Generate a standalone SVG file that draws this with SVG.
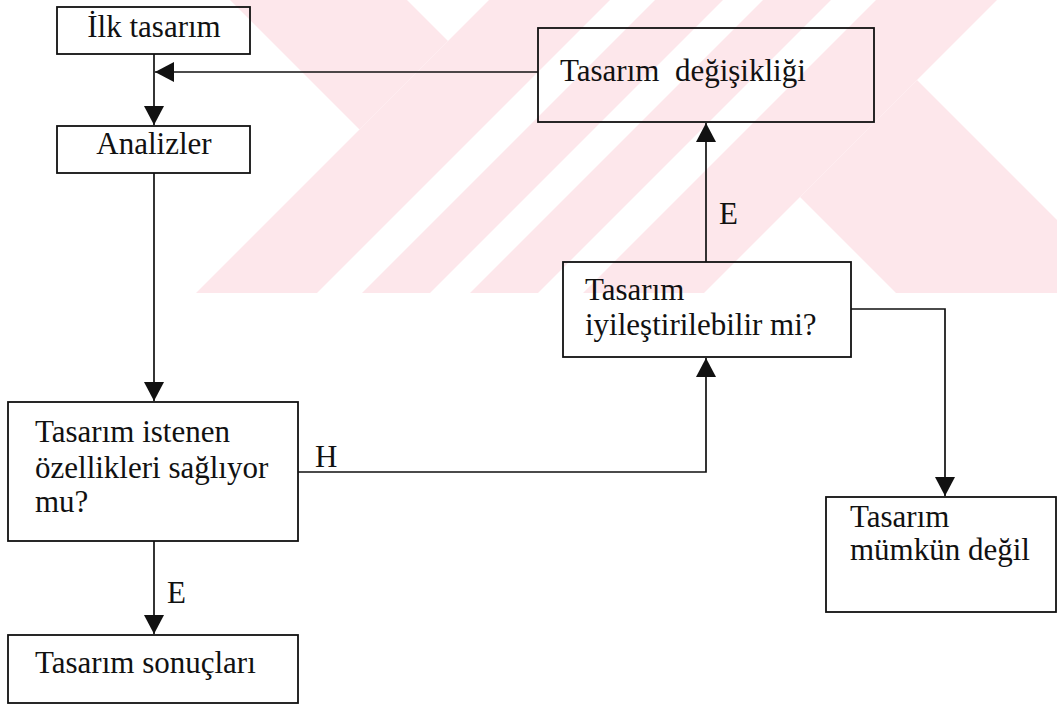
<svg xmlns="http://www.w3.org/2000/svg" width="1057" height="705" viewBox="0 0 1057 705">
  <style>
    .box { fill: none; stroke: #111; stroke-width: 1.8; }
    .wire { fill: none; stroke: #111; stroke-width: 1.7; }
    .t { font-family: 'Liberation Serif', Tinos, 'Times New Roman', 'DejaVu Serif', serif; font-size: 31px; fill: #111; }
    .wm { fill: #fde7eb; stroke: none; }
  </style>
  <defs>
    <marker id="arrow" viewBox="0 0 20 20" refX="19" refY="10" markerWidth="20" markerHeight="20" markerUnits="userSpaceOnUse" orient="auto">
      <path d="M0,0 L19,10 L0,20 z" fill="#111"/>
    </marker>
  </defs>
  <rect width="1057" height="705" fill="#ffffff"/>

  <g id="watermark">
    <polygon class="wm" points="230,0 407,0 448,41 359.5,129.5"/>
    <polygon class="wm" points="489,0 610,0 317,293 196,293"/>
    <polygon class="wm" points="655,0 723,0 430,293 362,293"/>
    <polygon class="wm" points="763,0 831,0 538,293 470,293"/>
    <polygon class="wm" points="876,0 997,0 704,293 583,293"/>
    <polygon class="wm" points="800,197 917,80 1057,220 1057,293 896,293"/>
  </g>

  <g id="connectors">
    <line class="wire" x1="154" y1="54" x2="154" y2="125" marker-end="url(#arrow)"/>
    <line class="wire" x1="538" y1="72" x2="155" y2="72" marker-end="url(#arrow)"/>
    <line class="wire" x1="154" y1="173" x2="154" y2="401" marker-end="url(#arrow)"/>
    <line class="wire" x1="154" y1="541" x2="154" y2="634" marker-end="url(#arrow)"/>
    <polyline class="wire" points="298,472 706,472 706,358" marker-end="url(#arrow)"/>
    <line class="wire" x1="706" y1="262" x2="706" y2="123" marker-end="url(#arrow)"/>
    <polyline class="wire" points="851,309 945,309 945,496" marker-end="url(#arrow)"/>
    <text class="t" x="167" y="603">E</text>
    <text class="t" x="315" y="467">H</text>
    <text class="t" x="719" y="224">E</text>
  </g>

  <g id="node-ilk-tasarim">
    <rect class="box" x="57" y="7" width="193" height="47"/>
    <text class="t" x="154" y="37" text-anchor="middle">İlk tasarım</text>
  </g>
  <g id="node-analizler">
    <rect class="box" x="57" y="126" width="193" height="47"/>
    <text class="t" x="154" y="154" text-anchor="middle">Analizler</text>
  </g>
  <g id="node-tasarim-degisikligi">
    <rect class="box" x="538" y="28" width="336" height="94"/>
    <text class="t" x="560" y="81" xml:space="preserve">Tasarım  değişikliği</text>
  </g>
  <g id="node-iyilestirilebilir">
    <rect class="box" x="563" y="262" width="288" height="95"/>
    <text class="t" x="585" y="300">Tasarım</text>
    <text class="t" x="585" y="335">iyileştirilebilir mi?</text>
  </g>
  <g id="node-istenen">
    <rect class="box" x="8" y="402" width="290" height="139"/>
    <text class="t" x="35" y="442">Tasarım istenen</text>
    <text class="t" x="35" y="478">özellikleri sağlıyor</text>
    <text class="t" x="35" y="512">mu?</text>
  </g>
  <g id="node-sonuclari">
    <rect class="box" x="8" y="635" width="290" height="68"/>
    <text class="t" x="35" y="673">Tasarım sonuçları</text>
  </g>
  <g id="node-mumkun-degil">
    <rect class="box" x="826" y="497" width="230" height="115"/>
    <text class="t" x="850" y="527">Tasarım</text>
    <text class="t" x="850" y="560">mümkün değil</text>
  </g>
</svg>
